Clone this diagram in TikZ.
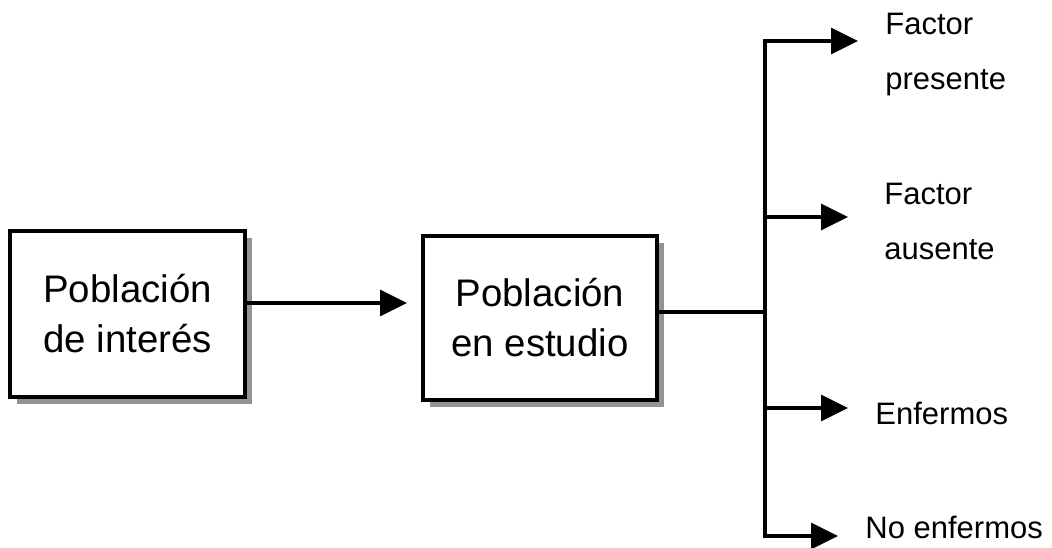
\documentclass[tikz,border=0pt]{standalone}
\usepackage{fontspec}
\setmainfont{Liberation Sans}
\usetikzlibrary{arrows.meta}
\usetikzlibrary{shadows}

\begin{document}
\begin{tikzpicture}[x=0.5pt,y=-0.5pt,
  caja/.style={draw,line width=2pt,fill=white,align=center,
    font=\fontsize{19.2}{25}\selectfont,
    drop shadow={shadow xshift=3.5pt,shadow yshift=-3.5pt,fill=gray!85,opacity=1}},
  rama/.style={line width=1.6pt},
  flecha/.style={rama,-{Triangle[length=13.5pt,width=13pt]}},
  etiq/.style={anchor=west,inner sep=0pt,align=left,font=\fontsize{15.5}{27.5}\selectfont}]
  \useasboundingbox (0,0) rectangle (1052,547);

  \node[caja,minimum width=117.5pt,minimum height=83pt] (interes) at (127.5,314) {Población\\de interés};
  \node[caja,minimum width=117pt,minimum height=82pt] (estudio) at (540,318) {Población\\en estudio};

  \coordinate (a1) at (407,303);
  \coordinate (b) at (765,312);
  \coordinate (top) at (765,41);
  \coordinate (bot) at (765,536);
  \coordinate (fp) at (858,41);
  \coordinate (fa) at (848,217);
  \coordinate (en) at (848,408);
  \coordinate (ne) at (838,536);

  \node[etiq] (presente) at (885,55) {Factor\\presente};
  \node[etiq] (ausente) at (884,221) {Factor\\ausente};
  \node[etiq] (enfermos) at (875,413) {Enfermos};
  \node[etiq] (noenfermos) at (865,527) {No enfermos};

  \draw[flecha](a1 -| interes.east)--(a1);
  \draw[rama](estudio.east |- b)--(b);
  \draw[rama,line cap=rect](top)--(bot);
  \draw[flecha](fp -| top)--(fp);
  \draw[flecha](fa -| top)--(fa);
  \draw[flecha](en -| top)--(en);
  \draw[flecha](ne -| top)--(ne);
\end{tikzpicture}
\end{document}
